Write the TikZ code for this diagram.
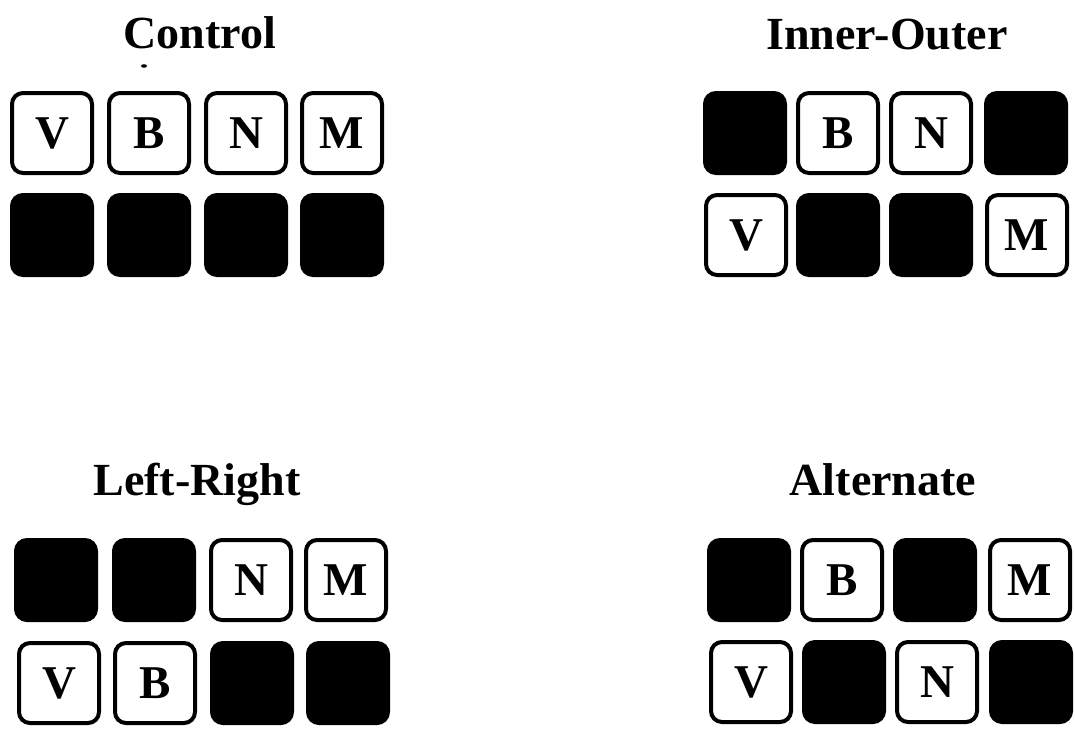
\documentclass[tikz,border=0pt]{standalone}
\usepackage{fontspec}
\setmainfont{Liberation Serif}
\begin{document}
\begin{tikzpicture}[x=1pt,y=-1pt,
  lbox/.style={draw=black,fill=white,line width=4pt,rounded corners=11pt,
    minimum width=80pt,minimum height=80pt,inner sep=0pt,
    font=\fontsize{47}{47}\selectfont\bfseries},
  dbox/.style={draw=black,fill=black,line width=4pt,rounded corners=11pt,
    minimum width=80pt,minimum height=80pt,inner sep=0pt},
  ttl/.style={anchor=base,inner sep=0pt,font=\fontsize{46}{46}\selectfont\bfseries}]
\useasboundingbox (0,0) rectangle (1075,732);
% Control
\node[ttl] (tc) at (200,48) {Control};
\fill (144,66) ellipse (3pt and 1.8pt);
\node[lbox] (c1) at (52,133) {V};
\node[lbox] (c2) at (149,133) {B};
\node[lbox] (c3) at (246,133) {N};
\node[lbox] (c4) at (342,133) {M};
\node[dbox] (c5) at (52,235) {};
\node[dbox] (c6) at (149,235) {};
\node[dbox] (c7) at (246,235) {};
\node[dbox] (c8) at (342,235) {};
% Inner-Outer
\node[ttl] (ti) at (887,49) {Inner-Outer};
\node[dbox] (i1) at (745,133) {};
\node[lbox] (i2) at (838,133) {B};
\node[lbox] (i3) at (931,133) {N};
\node[dbox] (i4) at (1026,133) {};
\node[lbox] (i5) at (746,235) {V};
\node[dbox] (i6) at (838,235) {};
\node[dbox] (i7) at (931,235) {};
\node[lbox] (i8) at (1027,235) {M};
% Left-Right
\node[ttl] (tl) at (197,495) {Left-Right};
\node[dbox] (l1) at (56,580) {};
\node[dbox] (l2) at (154,580) {};
\node[lbox] (l3) at (251,580) {N};
\node[lbox] (l4) at (346,580) {M};
\node[lbox] (l5) at (59,683) {V};
\node[lbox] (l6) at (155,683) {B};
\node[dbox] (l7) at (252,683) {};
\node[dbox] (l8) at (348,683) {};
% Alternate
\node[ttl] (ta) at (883,495) {Alternate};
\node[dbox] (a1) at (749,580) {};
\node[lbox] (a2) at (842,580) {B};
\node[dbox] (a3) at (935,580) {};
\node[lbox] (a4) at (1030,580) {M};
\node[lbox] (a5) at (751,682) {V};
\node[dbox] (a6) at (844,682) {};
\node[lbox] (a7) at (937,682) {N};
\node[dbox] (a8) at (1031,682) {};
\end{tikzpicture}
\end{document}
